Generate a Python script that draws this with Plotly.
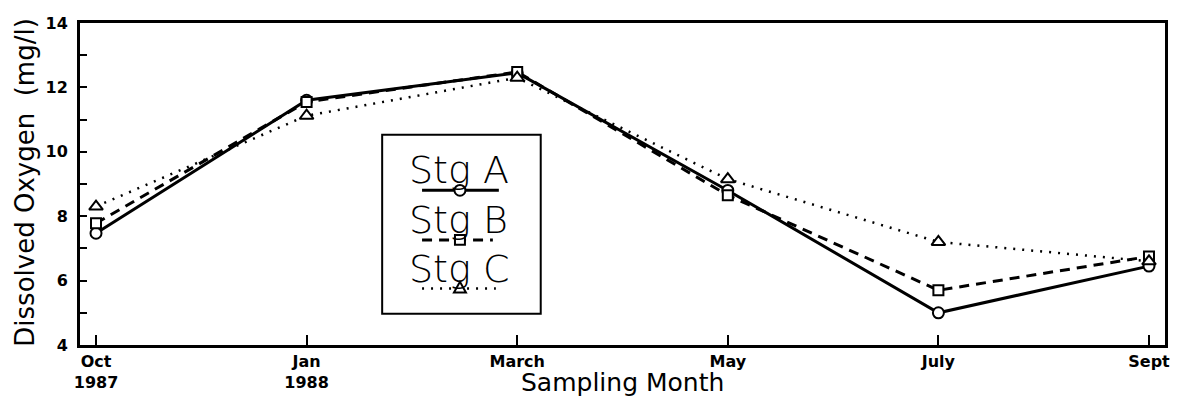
import plotly.graph_objects as go

# ---- data ----
months = ["Oct<br>1987", "Jan<br>1988", "March", "May", "July", "Sept"]
stg_a = [7.47, 11.6, 12.45, 8.8, 5.0, 6.45]
stg_b = [7.78, 11.55, 12.48, 8.65, 5.7, 6.75]
stg_c = [8.3, 11.12, 12.3, 9.15, 7.2, 6.6]
series_names = ["Stg A", "Stg B", "Stg C"]
y_ticks = [4, 6, 8, 10, 12, 14]

# ---- layout geometry (window pixels; page body has an 8px margin) ----
OFF = 8
W, H = 1184 - 2 * OFF, 408 - 2 * OFF
L, R, T, B = 80, 1168, 14, 345


def px_x(p):
    return (p - L) / (R - L)


def px_y(p):
    return (B - p) / (B - T)


FONT = "DejaVu Sans"

fig = go.Figure()

styles = [
    dict(dash="solid", width=3, symbol="circle", size=11),
    dict(dash="10px,7px", width=3, symbol="square", size=10),
    dict(dash="2px,7px", width=2.5, symbol="triangle-up", size=12),
]
for name, vals, st in zip(series_names, [stg_a, stg_b, stg_c], styles):
    fig.add_trace(go.Scatter(
        x=months, y=vals, name=name, mode="lines+markers",
        line=dict(color="black", width=st["width"], dash=st["dash"]),
        marker=dict(symbol=st["symbol"], size=st["size"], color="white",
                    line=dict(color="black", width=2)),
        showlegend=False,
    ))

shapes = []
# legend box
shapes.append(dict(type="rect", xref="paper", yref="paper",
                   x0=px_x(383), x1=px_x(542), y0=px_y(313), y1=px_y(129),
                   line=dict(color="black", width=2), fillcolor="white", layer="above"))
# legend samples
leg_rows = [186, 237, 287]
leg_lines = [(423, 500), (423, 494), (423, 497)]
for (x0, x1), yy, st in zip(leg_lines, leg_rows, styles):
    shapes.append(dict(type="line", xref="paper", yref="paper",
                       x0=px_x(x0), x1=px_x(x1), y0=px_y(yy), y1=px_y(yy),
                       line=dict(color="black", width=st["width"], dash=st["dash"]),
                       layer="above"))
mx = 461
shapes.append(dict(type="circle", xref="paper", yref="paper",
                   x0=px_x(mx - 5.5), x1=px_x(mx + 5.5), y0=px_y(186 + 5.5), y1=px_y(186 - 5.5),
                   line=dict(color="black", width=2), fillcolor="white", layer="above"))
shapes.append(dict(type="rect", xref="paper", yref="paper",
                   x0=px_x(mx - 5), x1=px_x(mx + 5), y0=px_y(237 + 5), y1=px_y(237 - 5),
                   line=dict(color="black", width=2), fillcolor="white", layer="above"))
ty = 286
pts = [(mx - 6, ty + 5), (mx + 6, ty + 5), (mx, ty - 6)]
path = "M {} {} L {} {} L {} {} Z".format(*[v for p in pts for v in (px_x(p[0]), px_y(p[1]))])
shapes.append(dict(type="path", xref="paper", yref="paper", path=path,
                   line=dict(color="black", width=2), fillcolor="white", layer="above"))

annotations = []
for name, yy in zip(series_names, [165, 216, 267]):
    annotations.append(dict(text=name, xref="paper", yref="paper",
                            x=px_x(408), y=px_y(yy), xanchor="left", yanchor="middle",
                            showarrow=False,
                            font=dict(family=FONT, size=38, color="black", weight=200)))
annotations.append(dict(text="Dissolved Oxygen  (mg/l)", xref="paper", yref="paper",
                        x=px_x(24), y=px_y(178), xanchor="center", yanchor="middle",
                        textangle=-90, showarrow=False,
                        font=dict(family=FONT, size=26, color="black")))
annotations.append(dict(text="Sampling Month", xref="paper", yref="paper",
                        x=px_x(624), y=px_y(384), xanchor="center", yanchor="middle",
                        showarrow=False, font=dict(family=FONT, size=25, color="black")))

fig.update_layout(
    width=W, height=H,
    margin=dict(l=L - OFF, r=(W + OFF) - R, t=T - OFF, b=(H + OFF) - B),
    paper_bgcolor="white", plot_bgcolor="white",
    shapes=shapes, annotations=annotations,
    font=dict(family=FONT, color="black"),
)
fig.update_xaxes(
    type="category", range=[-0.076, 5.076],
    showline=True, linecolor="black", linewidth=3, mirror=True,
    ticks="inside", ticklen=10, tickwidth=2, tickcolor="black",
    showgrid=False, zeroline=False,
    tickfont=dict(family=FONT, size=16, color="black", weight="bold"),
)
fig.update_yaxes(
    range=[4, 14], tickvals=y_ticks,
    showline=True, linecolor="black", linewidth=3, mirror=True,
    ticks="inside", ticklen=7, tickwidth=2, tickcolor="black",
    minor=dict(dtick=1, tick0=4, ticks="inside", ticklen=7, tickwidth=2, tickcolor="black", showgrid=False),
    showgrid=False, zeroline=False, ticklabeloverflow="allow", ticklabelstandoff=6,
    tickfont=dict(family=FONT, size=16, color="black", weight="bold"),
)

fig.write_html("out.html")
